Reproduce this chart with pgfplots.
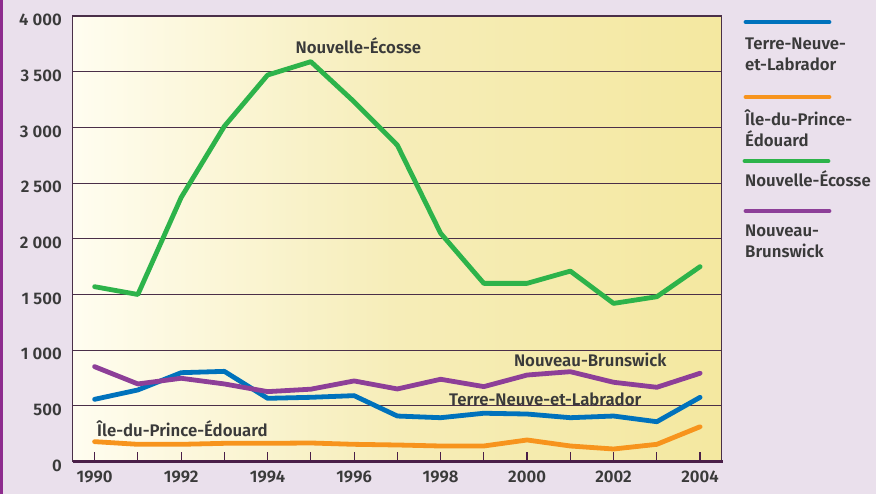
\documentclass[border=0pt]{standalone}
\usepackage{fontspec}
\setmainfont{Fira Sans}[BoldFont={Fira Sans SemiBold}]
\usepackage{pgfplots}
\pgfplotsset{compat=1.18}
\definecolor{bg}{HTML}{EAE0EC}
\definecolor{pbar}{HTML}{8E2C8E}
\definecolor{gridc}{HTML}{4A2F48}
\definecolor{axc}{HTML}{4A1F48}
\definecolor{txt}{HTML}{3A3A3A}
\definecolor{cblue}{HTML}{0072BC}
\definecolor{corange}{HTML}{F7941D}
\definecolor{cgreen}{HTML}{2DB34A}
\definecolor{cpurple}{HTML}{8D3F98}
\definecolor{bgl}{HTML}{FFFDF0}
\definecolor{bgm}{HTML}{F6EDB8}
\definecolor{bgr}{HTML}{F4E8A0}
\newcommand{\lfont}{\bfseries\fontsize{16.8}{21}\selectfont}
\begin{document}
\begin{tikzpicture}
\fill[bg] (0pt,0pt) rectangle (876pt,494pt);
\fill[pbar] (0pt,0pt) rectangle (3pt,494pt);
\begin{axis}[
  at={(73pt,32.4pt)}, anchor=south west, scale only axis,
  width=648.7pt, height=445.6pt,
  xmin=1989.5, xmax=2004.5, ymin=0, ymax=4000,
  axis background/.style={left color=bgl, right color=bgr, middle color=bgm},
  axis line style={draw=gridc, line width=1pt},
  ymajorgrids, grid style={draw=gridc, line width=0.9pt},
  ytick={0,500,...,4000},
  yticklabels={0,500,1 000,1 500,2 000,2 500,3 000,3 500,4 000},
  xtick={1990,1991,...,2004},
  xticklabels={1990,,1992,,1994,,1996,,1998,,2000,,2002,,2004},
  ytick style={draw=none},
  xtick style={draw=axc, line width=1.2pt},
  tick align=inside, xtick pos=lower, ytick pos=left,
  major tick length=10pt,
  yticklabel style={font=\lfont, text=txt, inner sep=0pt, xshift=-11pt, yshift=-4pt},
  xticklabel style={font=\lfont, text=txt, inner sep=0pt, yshift=-9pt},
  every axis plot/.append style={line width=4.8pt, line join=round, line cap=round},
  clip=false,
]
\addplot[cgreen] coordinates {(1990,1570)(1991,1500)(1992,2370)(1993,3010)(1994,3470)(1995,3590)(1996,3230)(1997,2840)(1998,2050)(1999,1600)(2000,1600)(2001,1710)(2002,1420)(2003,1480)(2004,1750)};
\addplot[cblue] coordinates {(1990,559)(1991,643)(1992,798)(1993,810)(1994,568)(1995,577)(1996,592)(1997,409)(1998,394)(1999,434)(2000,427)(2001,394)(2002,409)(2003,358)(2004,577)};
\addplot[cpurple] coordinates {(1990,852)(1991,697)(1992,748)(1993,697)(1994,628)(1995,650)(1996,724)(1997,652)(1998,739)(1999,673)(2000,777)(2001,807)(2002,712)(2003,667)(2004,793)};
\addplot[corange] coordinates {(1990,179)(1991,155)(1992,155)(1993,164)(1994,164)(1995,167)(1996,155)(1997,149)(1998,140)(1999,140)(2000,194)(2001,140)(2002,113)(2003,155)(2004,313)};
\draw[axc, line width=2.6pt] (rel axis cs:0,0) -- ([xshift=1pt]rel axis cs:1,0);
\node[font=\lfont, text=txt, inner sep=0pt] at (axis cs:1996.1,3731) {Nouvelle-Écosse};
\node[font=\lfont, text=txt, inner sep=0pt] at (axis cs:2001.46,912) {Nouveau-Brunswick};
\node[font=\lfont, text=txt, inner sep=0pt] at (axis cs:2000.42,559) {Terre-Neuve-et-Labrador};
\node[font=\lfont, text=txt, inner sep=0pt] at (axis cs:1992.03,299) {Île-du-Prince-Édouard};
\end{axis}
\begin{scope}[line width=4.8pt, line cap=round]
\draw[cblue] (746pt,472pt) -- (829pt,472pt);
\draw[corange] (746pt,397pt) -- (829pt,397pt);
\draw[cgreen] (745pt,333pt) -- (828pt,333pt);
\draw[cpurple] (746pt,283pt) -- (829pt,283pt);
\end{scope}
\begin{scope}[every node/.style={font=\lfont, text=txt, inner sep=0pt, anchor=west, align=left}]
\node at (745pt,440pt) {Terre-Neuve-\\et-Labrador};
\node at (745pt,366pt) {Île-du-Prince-\\Édouard};
\node at (745pt,315pt) {Nouvelle-Écosse};
\node at (745pt,252.5pt) {Nouveau-\\Brunswick};
\end{scope}
\end{tikzpicture}
\end{document}
